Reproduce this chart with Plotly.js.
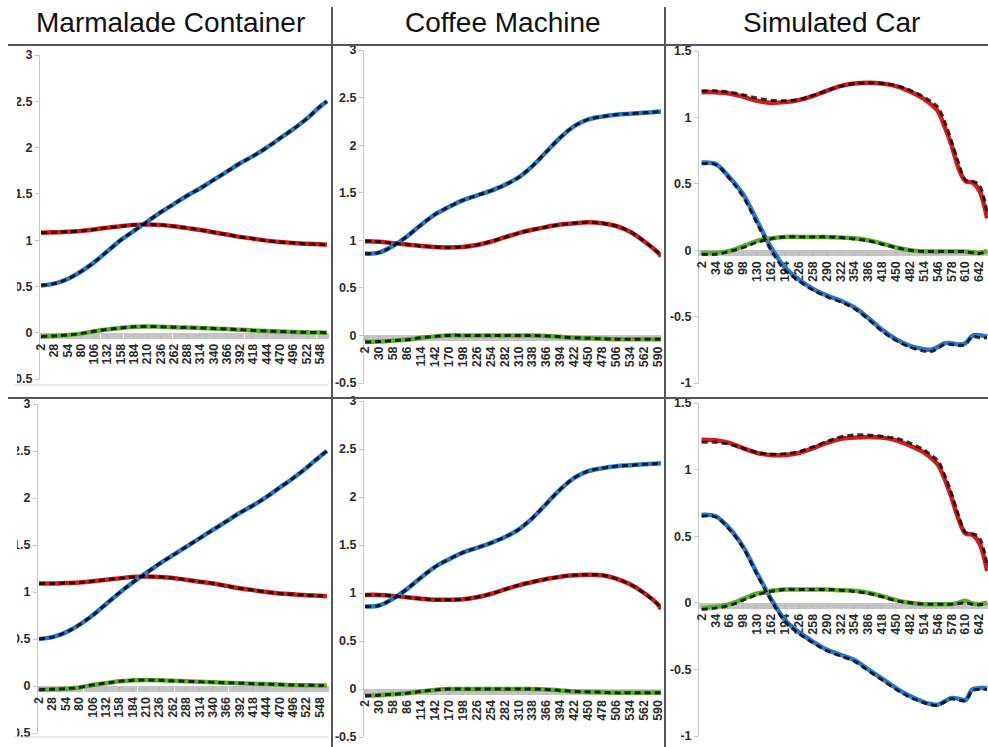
<!DOCTYPE html>
<html>
<head>
<meta charset="utf-8">
<script src="https://cdn.plot.ly/plotly-3.0.1.min.js"></script>
<style>html,body{margin:0;padding:0;background:#fff;}#chart{width:988px;height:747px;}</style>
</head>
<body>
<div id="chart"></div>
<script>
// ---------- DATA ----------
const titles = ["Marmalade Container", "Coffee Machine", "Simulated Car"];

const marmX = [2,28,54,80,106,132,158,184,210,236,262,288,314,340,366,392,418,444,470,496,522,548,562];
const marmTicks = [2,28,54,80,106,132,158,184,210,236,262,288,314,340,366,392,418,444,470,496,522,548];
const marmTopRed   = [1.08,1.085,1.09,1.10,1.115,1.135,1.15,1.165,1.17,1.165,1.15,1.13,1.11,1.085,1.06,1.035,1.015,0.995,0.98,0.97,0.96,0.955,0.95];
const marmTopBlue  = [0.51,0.53,0.58,0.66,0.76,0.88,1.0,1.10,1.20,1.30,1.39,1.48,1.56,1.65,1.74,1.83,1.91,2.0,2.10,2.20,2.31,2.44,2.5];
const marmTopGreen = [-0.04,-0.035,-0.025,-0.01,0.015,0.035,0.05,0.065,0.068,0.065,0.06,0.055,0.05,0.045,0.04,0.032,0.025,0.018,0.012,0.008,0.004,0.002,0.0];
const marmBotRed   = [1.09,1.09,1.095,1.10,1.115,1.13,1.145,1.16,1.165,1.16,1.15,1.13,1.11,1.09,1.065,1.04,1.02,1.0,0.985,0.975,0.965,0.96,0.955];
const marmBotBlue  = [0.50,0.52,0.57,0.65,0.75,0.87,0.99,1.10,1.20,1.30,1.39,1.48,1.57,1.66,1.75,1.84,1.92,2.01,2.11,2.21,2.32,2.44,2.5];
const marmBotGreen = [-0.04,-0.035,-0.03,-0.015,0.01,0.03,0.05,0.06,0.065,0.06,0.055,0.05,0.045,0.04,0.035,0.03,0.025,0.02,0.015,0.01,0.008,0.005,0.005];

const coffeeX = [2,30,58,86,114,142,170,198,226,254,282,310,338,366,394,422,450,478,506,534,562,590,596];
const coffeeTicks = [2,30,58,86,114,142,170,198,226,254,282,310,338,366,394,422,450,478,506,534,562,590];
const coffeeTopRed   = [0.99,0.985,0.97,0.955,0.94,0.93,0.925,0.93,0.95,0.985,1.03,1.075,1.11,1.14,1.165,1.18,1.19,1.18,1.15,1.09,0.99,0.87,0.83];
const coffeeTopBlue  = [0.86,0.87,0.94,1.04,1.16,1.27,1.35,1.42,1.47,1.52,1.58,1.66,1.78,1.93,2.08,2.20,2.27,2.30,2.32,2.33,2.34,2.35,2.35];
const coffeeTopGreen = [-0.07,-0.065,-0.055,-0.045,-0.025,-0.01,0.0,0.0,0.0,0.0,0.0,0.0,0.0,-0.005,-0.015,-0.025,-0.03,-0.035,-0.04,-0.04,-0.04,-0.04,-0.04];
const coffeeBotRed   = [0.98,0.98,0.97,0.955,0.94,0.93,0.93,0.935,0.955,0.99,1.035,1.08,1.115,1.145,1.17,1.185,1.19,1.185,1.15,1.09,1.0,0.88,0.83];
const coffeeBotBlue  = [0.86,0.87,0.94,1.04,1.16,1.27,1.35,1.42,1.47,1.52,1.58,1.66,1.78,1.93,2.08,2.20,2.27,2.30,2.32,2.33,2.34,2.35,2.35];
const coffeeBotGreen = [-0.07,-0.065,-0.055,-0.045,-0.025,-0.01,0.0,0.0,0.0,0.0,0.0,0.0,0.0,-0.005,-0.015,-0.025,-0.03,-0.035,-0.04,-0.04,-0.04,-0.04,-0.04];

const carX = [2,34,66,98,130,162,194,226,258,290,322,354,386,418,450,482,514,530,546,562,578,594,610,626,642,660];
const carTicks = [2,34,66,98,130,162,194,226,258,290,322,354,386,418,450,482,514,546,578,610,642];
const carTopRed    = [1.19,1.19,1.18,1.155,1.125,1.11,1.115,1.13,1.16,1.20,1.235,1.255,1.26,1.255,1.235,1.195,1.14,1.10,1.05,0.93,0.79,0.62,0.52,0.51,0.45,0.24];
const carTopRedD   = [1.20,1.20,1.19,1.17,1.145,1.13,1.125,1.135,1.165,1.20,1.235,1.255,1.26,1.255,1.24,1.205,1.155,1.12,1.08,0.97,0.82,0.66,0.53,0.52,0.49,0.28];
const carTopBlue   = [0.66,0.65,0.55,0.42,0.22,0.02,-0.13,-0.22,-0.29,-0.34,-0.38,-0.43,-0.51,-0.60,-0.67,-0.72,-0.745,-0.75,-0.73,-0.70,-0.70,-0.71,-0.70,-0.645,-0.64,-0.65];
const carTopBlueD  = [0.65,0.645,0.54,0.40,0.20,0.00,-0.15,-0.23,-0.30,-0.35,-0.39,-0.44,-0.52,-0.61,-0.68,-0.73,-0.76,-0.765,-0.74,-0.71,-0.71,-0.72,-0.71,-0.65,-0.66,-0.66];
const carTopGreen  = [-0.02,-0.02,-0.005,0.03,0.07,0.09,0.10,0.10,0.10,0.10,0.095,0.09,0.075,0.05,0.02,0.0,-0.01,-0.01,-0.01,-0.01,-0.01,-0.01,-0.01,-0.015,-0.02,-0.005];
const carTopGreenD = [-0.03,-0.03,-0.01,0.02,0.06,0.085,0.10,0.10,0.10,0.10,0.095,0.085,0.07,0.045,0.02,0.0,-0.01,-0.01,-0.01,-0.01,-0.01,-0.01,-0.01,-0.02,-0.025,-0.01];
const carBotRed    = [1.225,1.22,1.20,1.16,1.125,1.11,1.11,1.125,1.16,1.20,1.23,1.24,1.245,1.24,1.22,1.18,1.13,1.09,1.04,0.93,0.79,0.63,0.52,0.51,0.45,0.24];
const carBotRedD   = [1.205,1.205,1.19,1.16,1.13,1.115,1.12,1.135,1.17,1.21,1.245,1.26,1.26,1.25,1.235,1.20,1.15,1.11,1.07,0.96,0.82,0.66,0.53,0.52,0.49,0.28];
const carBotBlue   = [0.66,0.65,0.56,0.42,0.22,0.03,-0.13,-0.22,-0.29,-0.35,-0.39,-0.43,-0.50,-0.57,-0.64,-0.70,-0.745,-0.76,-0.765,-0.74,-0.715,-0.72,-0.73,-0.65,-0.64,-0.64];
const carBotBlueD  = [0.65,0.645,0.55,0.41,0.21,0.02,-0.14,-0.23,-0.30,-0.36,-0.40,-0.44,-0.51,-0.58,-0.65,-0.71,-0.75,-0.765,-0.77,-0.745,-0.72,-0.73,-0.735,-0.66,-0.65,-0.65];
const carBotGreen  = [-0.04,-0.03,-0.01,0.03,0.07,0.09,0.10,0.10,0.10,0.10,0.095,0.09,0.075,0.05,0.02,0.0,-0.01,-0.01,-0.01,-0.01,-0.01,0.0,0.015,-0.005,-0.01,0.0];
const carBotGreenD = [-0.05,-0.04,-0.02,0.02,0.06,0.085,0.10,0.10,0.10,0.10,0.095,0.085,0.07,0.045,0.015,0.0,-0.01,-0.01,-0.01,-0.01,-0.01,-0.005,0.0,-0.01,-0.015,-0.005];

const yTicksMarm = [-0.5,0,0.5,1,1.5,2,2.5,3];
const yTicksCar  = [-1,-0.5,0,0.5,1,1.5];

// ---------- LAYOUT HELPERS ----------
const W = 988, H = 747;
const fx = px => px / W;
const fy = py => 1 - py / H;

const RED = '#d01c1c', BLUE = '#2a78c8', GREEN = '#5cae2c', DASH = 'rgba(0,0,0,0.78)';

const panels = [
  {x: marmX, xt: marmTicks, xr: [0,566], xd: [40,329], yd: [55,379], yr: [-0.5,3], yt: yTicksMarm,
   s: [[marmTopRed, marmTopRed], [marmTopBlue, marmTopBlue], [marmTopGreen, marmTopGreen]]},
  {x: coffeeX, xt: coffeeTicks, xr: [0,596], xd: [364,661], yd: [50,383], yr: [-0.5,3], yt: yTicksMarm,
   s: [[coffeeTopRed, coffeeTopRed], [coffeeTopBlue, coffeeTopBlue], [coffeeTopGreen, coffeeTopGreen]]},
  {x: carX, xt: carTicks, xr: [-4,662], xd: [699,988], yd: [51,383], yr: [-1,1.5], yt: yTicksCar,
   s: [[carTopRed, carTopRedD], [carTopBlue, carTopBlueD], [carTopGreen, carTopGreenD]]},
  {x: marmX, xt: marmTicks, xr: [0,566], xd: [38,329], yd: [404,733], yr: [-0.5,3], yt: yTicksMarm,
   s: [[marmBotRed, marmBotRed], [marmBotBlue, marmBotBlue], [marmBotGreen, marmBotGreen]]},
  {x: coffeeX, xt: coffeeTicks, xr: [0,596], xd: [364,661], yd: [401,737], yr: [-0.5,3], yt: yTicksMarm,
   s: [[coffeeBotRed, coffeeBotRed], [coffeeBotBlue, coffeeBotBlue], [coffeeBotGreen, coffeeBotGreen]]},
  {x: carX, xt: carTicks, xr: [-4,662], xd: [699,988], yd: [403,736], yr: [-1,1.5], yt: yTicksCar,
   s: [[carBotRed, carBotRedD], [carBotBlue, carBotBlueD], [carBotGreen, carBotGreenD]]}
];

const tickFont = {family: 'Liberation Sans, Arial, sans-serif', size: 12.5, color: '#2a2a2a', weight: 700};
const traces = [];
const layout = {
  width: W, height: H,
  margin: {l: 0, r: 0, t: 0, b: 0},
  paper_bgcolor: '#fff', plot_bgcolor: 'rgba(0,0,0,0)',
  showlegend: false,
  shapes: [], annotations: []
};

const colors = [RED, BLUE, GREEN];
panels.forEach((p, i) => {
  const n = i + 1;
  const xa = 'x' + (n > 1 ? n : ''), ya = 'y' + (n > 1 ? n : '');
  const xk = 'xaxis' + (n > 1 ? n : ''), yk = 'yaxis' + (n > 1 ? n : '');
  const yd0 = fy(p.yd[1]), yd1 = fy(p.yd[0]);
  const zeroPos = yd0 + (0 - p.yr[0]) / (p.yr[1] - p.yr[0]) * (yd1 - yd0);
  layout[xk] = {
    domain: [fx(p.xd[0]), fx(p.xd[1])], range: p.xr, anchor: 'free', position: zeroPos,
    tickmode: 'array', tickvals: p.xt, ticktext: p.xt.map(String), tickangle: -90,
    ticks: 'outside', ticklen: 5, tickcolor: '#bdbdbd', tickwidth: 2,
    minor: {tickmode: 'linear', tick0: 0, dtick: 3, ticks: 'outside', ticklen: 5, tickcolor: '#c4c4c4', tickwidth: 1.5},
    showline: true, linecolor: '#c4c4c4', linewidth: 1, layer: 'below traces',
    showgrid: false, zeroline: false, tickfont: tickFont, fixedrange: true
  };
  layout[yk] = {
    domain: [yd0, yd1], range: p.yr, anchor: xa,
    tickmode: 'array', tickvals: p.yt, ticktext: p.yt.map(String),
    ticks: 'outside', ticklen: 4, tickcolor: '#c4c4c4',
    showline: true, linecolor: '#c8c8c8', linewidth: 1, layer: 'below traces',
    showgrid: false, zeroline: false, tickfont: tickFont, fixedrange: true
  };
  p.s.forEach((pair, k) => {
    traces.push({x: p.x, y: pair[0], xaxis: xa, yaxis: ya, type: 'scatter', mode: 'lines',
      line: {color: colors[k], width: 4.5, shape: 'spline', smoothing: 1}, hoverinfo: 'skip'});
  });
  p.s.forEach((pair, k) => {
    traces.push({x: p.x, y: pair[1], xaxis: xa, yaxis: ya, type: 'scatter', mode: 'lines',
      line: {color: DASH, width: 3, dash: '6px,4px', shape: 'spline', smoothing: 1}, hoverinfo: 'skip'});
  });
});

// titles
[170, 503, 831].forEach((cx, i) => {
  layout.annotations.push({text: titles[i], xref: 'paper', yref: 'paper', x: fx(cx), y: fy(22),
    xanchor: 'center', yanchor: 'middle', showarrow: false,
    font: {family: 'Liberation Sans, Arial, sans-serif', size: 28, color: '#111'}});
});

// crop mask on left edge
layout.shapes.push({type: 'rect', xref: 'paper', yref: 'paper', x0: 0, x1: fx(17), y0: 0, y1: fy(46),
  fillcolor: '#fff', line: {width: 0}, layer: 'above'});
// thin frame lines under left column panels
[385, 737].forEach(py => layout.shapes.push({type: 'line', xref: 'paper', yref: 'paper',
  x0: fx(15), x1: fx(328), y0: fy(py), y1: fy(py), line: {color: '#cfcfcf', width: 1}, layer: 'above'}));
// separators
[45, 398].forEach(py => layout.shapes.push({type: 'line', xref: 'paper', yref: 'paper',
  x0: fx(8), x1: 1, y0: fy(py), y1: fy(py), line: {color: '#555', width: 2}, layer: 'above'}));
[332, 665].forEach(px => layout.shapes.push({type: 'line', xref: 'paper', yref: 'paper',
  x0: fx(px), x1: fx(px), y0: 0, y1: fy(7), line: {color: '#555', width: 2}, layer: 'above'}));

Plotly.newPlot('chart', traces, layout, {staticPlot: true, displayModeBar: false});
</script>
</body>
</html>
